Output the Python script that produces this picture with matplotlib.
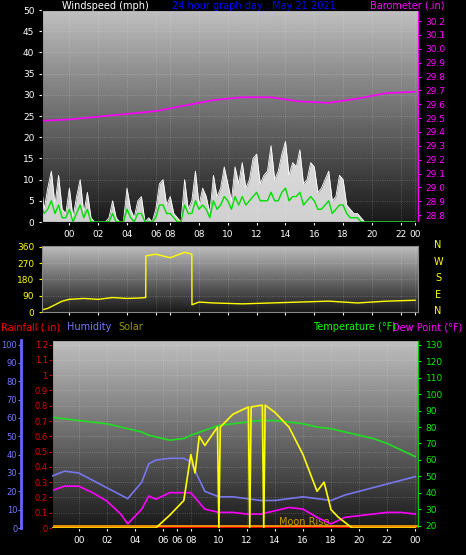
import numpy as np
import matplotlib
matplotlib.use("Agg")
import matplotlib.pyplot as plt

W, H = 466, 555
# ---- data ----
t_half = [(-2 + 0.25*i) for i in range(105)]
gust = [10,3,8,12,4,11,3,2, 8,1,6,10,2,7,1,0, 0,0,0,1,5,1,0,0, 8,3,1,5,6,0,1,0,
        3,9,10,4,6,2,1,0, 10,3,5,12,4,8,6,2, 11,6,8,13,9,5,13,9,
        14,8,10,15,16,9,11,12, 18,10,12,16,19,11,14,13, 17,9,10,14,13,7,8,10,
        12,5,6,11,10,4,3,2, 2,1,0,0,0,0,0,0, 0,0,0,0,0,0,0,0,0]
avg = [4,2,3,5,2,4,1,1, 3,0,2,4,1,3,0,0, 0,0,0,0,2,0,0,0, 3,1,0,2,2,0,0,0,
       1,4,4,2,2,1,0,0, 4,2,2,5,3,4,3,1, 5,3,4,6,5,3,6,4,
       6,4,5,6,7,5,5,5, 7,5,5,7,8,5,6,6, 7,4,5,6,5,3,3,4,
       5,2,3,4,4,2,1,1, 1,0,0,0,0,0,0,0, 0,0,0,0,0,0,0,0,0]
t_baro = [-2,0,2,4,6,8,10,12,14,16,18,20,22,24]
baro = [29.48,29.49,29.51,29.53,29.55,29.59,29.63,29.65,29.65,29.62,29.61,29.64,29.68,29.69]
t_dir = [-2,-1.5,-1,-0.5,0,1,2,3,4,5,5.3,5.31,6,7,8,8.5,8.51,9,10,12,14,16,18,20,22,24]
wdir = [10,20,40,60,70,75,70,80,75,78,80,310,320,300,330,320,40,55,50,45,50,55,60,50,60,65]
t_bot = [-2,-1,0,1,2,3,3.5,4.5,5,5.5,6.5,7.5,8,9,10,11,12,13,14,15,16,17,18,19,20,21,22,23,24]
temp = [86,85,84,83,82,80,79,77,75,74,72,73,75,78,81,82,83,84,84,83,82,80,79,77,75,73,70,66,62]
hum = [28,31,30,26,22,18,16,25,35,37,38,38,36,20,17,17,16,15,15,16,17,16,15,18,20,22,24,26,28]
dew = [41,44,44,40,35,27,21,30,38,36,40,40,40,30,28,28,27,27,29,31,30,25,21,25,26,27,28,28,27]
t_sol = [-2,5.5,6.5,7.5,8,8.3,8.6,9,9.9,10,10.1,11,12.1,12.2,12.3,13.1,13.2,13.3,14,15,16,16.5,17,17.5,18,18.5,19,19.5,24]
solar = [0,0,7,15,40,30,50,45,55,0,55,62,66,0,66,67,0,67,63,55,40,30,20,25,10,6,3,0,0]
xt_top = [0,2,4,6,7,9,11,13,15,17,19,21,23,24]
xl_top = ['00','02','04','06','08','08','10','12','14','16','18','20','22','00']
xt_bot = [0,2,4,6,7,8,10,12,14,16,18,20,22,24]
xl_bot = ['00','02','04','06','06','08','10','12','14','16','18','20','22','00']

fig = plt.figure(figsize=(W/100, H/100), dpi=100, facecolor='black')
plt.rcParams['font.size'] = 6.5

def ax_px(x0, y0, x1, y1):
    return fig.add_axes([x0/W, 1-y1/H, (x1-x0)/W, (y1-y0)/H])

grad = np.linspace(0.75, 0.1, 256).reshape(-1, 1)
def style(ax, xt, xl, xlab=True):
    ax.imshow(grad, extent=[0,1,0,1], transform=ax.transAxes, cmap='gray', vmin=0, vmax=1, aspect='auto', zorder=0)
    ax.set_facecolor('black')
    ax.grid(True, color='white', alpha=0.25, linestyle=':', lw=0.6)
    ax.set_xlim(-1.9, 24.2)
    ax.set_xticks(xt)
    ax.set_xticklabels(xl if xlab else [], color='yellow')
    for s in ax.spines.values():
        s.set_color('#888888')
    ax.tick_params(colors='white', length=2, labelsize=6.5)

# top
ax1 = ax_px(42, 10, 418, 222)
style(ax1, xt_top, xl_top)
ax1.fill_between(t_half, gust, color='white', alpha=0.8, lw=0, zorder=2)
ax1.plot(t_half, gust, color='white', lw=0.6, zorder=2)
ax1.plot(t_half, avg, color='#00dd00', lw=1, zorder=3)
ax1.set_ylim(0, 50); ax1.set_yticks(range(0, 51, 5))
ax1.tick_params(axis='y', colors='white')
ax1b = ax1.twinx()
ax1b.plot(t_baro, baro, color='magenta', lw=1.2)
ax1b.set_ylim(28.75, 30.28); ax1b.set_yticks(np.round(np.arange(28.8, 30.21, 0.1), 1))
ax1b.tick_params(colors='magenta', length=2, labelsize=6.5)
ax1b.spines['right'].set_color('magenta')
fig.text(62/W, 1-6/H, 'Windspeed (mph)', color='white', fontsize=7, va='center')
fig.text(172/W, 1-6/H, '24 hour graph day : May 21 2021', color='blue', fontsize=7, va='center')
fig.text(370/W, 1-6/H, 'Barometer (.in)', color='magenta', fontsize=7, va='center')

# middle
ax2 = ax_px(42, 246, 418, 312)
style(ax2, xt_top, xl_top, xlab=False)
ax2.plot(t_dir, wdir, color='yellow', lw=1)
ax2.set_ylim(0, 365); ax2.set_yticks([0, 90, 180, 270, 360])
ax2.tick_params(axis='y', colors='yellow')
for i, c in enumerate('NWSEN'):
    fig.text(438/W, 1-(245+i*16.5)/H, c, color='yellow', fontsize=7, ha='center', va='center')

# bottom
fig.text(1/W, 1-327/H, 'Rainfall (.in)', color='red', fontsize=7, va='center')
fig.text(67/W, 1-327/H, 'Humidity', color='#7777ff', fontsize=7, va='center')
fig.text(118/W, 1-327/H, 'Solar', color='#999900', fontsize=7, va='center')
fig.text(313/W, 1-327/H, 'Temperature (°F)', color='#00ff00', fontsize=7, va='center')
fig.text(392/W, 1-327/H, 'Dew Point (°F)', color='magenta', fontsize=7, va='center')
ax3 = ax_px(52, 340, 418, 528)
style(ax3, xt_bot, xl_bot)
ax3.set_ylim(0, 1.23); ax3.set_yticks(np.round(np.arange(0, 1.21, 0.1), 1))
ax3.set_yticklabels(['0','0.1','0.2','0.3','0.4','0.5','0.6','0.7','0.8','0.9','1','1.1','1.2'])
ax3.tick_params(axis='y', colors='#dd0000', labelsize=6, pad=1)
ax3.spines['left'].set_color('red')
ax3.axhline(0.005, color='red', lw=2, zorder=3)
ax3.axhline(0.012, color='orange', lw=1.2, zorder=3)
ax3.text(14.3, 0.02, 'Moon Rise', color='#cc9900', fontsize=7)
ax3t = ax3.twinx()
ax3t.plot(t_bot, temp, color='#22dd22', lw=1.2)
ax3t.plot(t_bot, dew, color='magenta', lw=1.2)
ax3t.set_ylim(18.5, 133); ax3t.set_yticks(range(20, 131, 10))
ax3t.tick_params(colors='#00ee00', length=2, labelsize=6.5)
ax3t.spines['right'].set_color('#00cc00')
ax3h = ax3.twinx()
ax3h.plot(t_bot, hum, color='#7777ee', lw=1.2)
ax3h.plot(t_sol, solar, color='yellow', lw=1.2)
ax3h.set_ylim(0, 102.5)
ax3h.yaxis.set_ticks_position('left'); ax3h.yaxis.set_label_position('left')
ax3h.spines['left'].set_position(('outward', 22))
ax3h.spines['left'].set_color('#6666ff'); ax3h.spines['left'].set_linewidth(2)
ax3h.spines['right'].set_visible(False)
ax3h.set_yticks(range(0, 101, 10))
ax3h.tick_params(colors='#7777ff', length=2, labelsize=6, pad=1)

fig.savefig('out.png', dpi=100, facecolor='black')
